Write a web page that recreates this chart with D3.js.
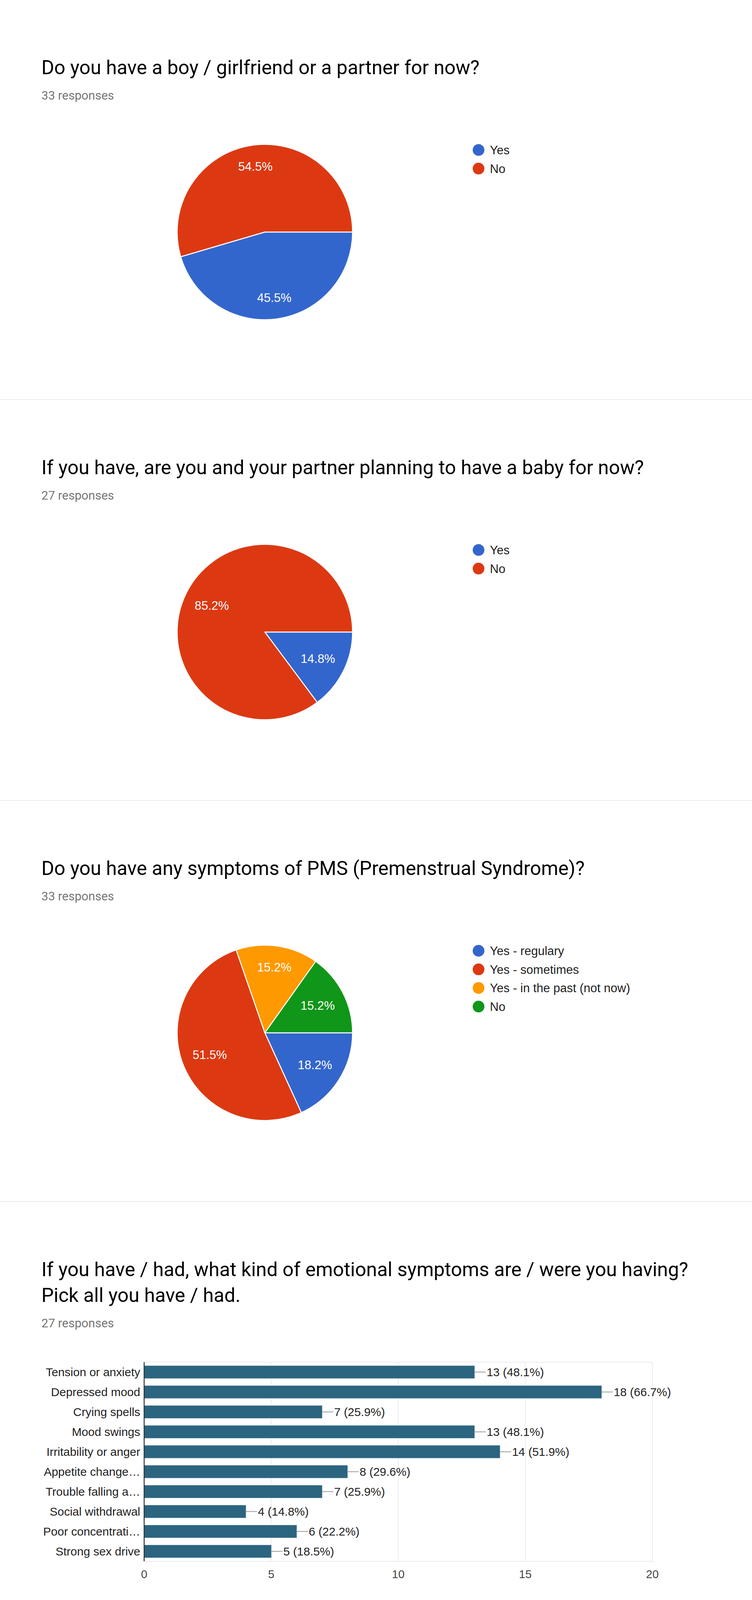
<!DOCTYPE html>
<html>
<head>
<meta charset="utf-8">
<script src="https://cdn.jsdelivr.net/npm/d3@7"></script>
<style>
  html, body { margin: 0; padding: 0; background: #fff; }
  svg { display: block; }
</style>
</head>
<body>
<svg id="chart" width="1925" height="4269"></svg>
<script>
// ---------- DATA ----------
const q1Title = ["Do you have a boy / girlfriend or a partner for now?"];
const q1Responses = "33 responses";
const q1Labels = ["Yes", "No"];
const q1Values = [15, 18];

const q2Title = ["If you have, are you and your partner planning to have a baby for now?"];
const q2Responses = "27 responses";
const q2Labels = ["Yes", "No"];
const q2Values = [4, 23];

const q3Title = ["Do you have any symptoms of PMS (Premenstrual Syndrome)?"];
const q3Responses = "33 responses";
const q3Labels = ["Yes - regulary", "Yes - sometimes", "Yes - in the past (not now)", "No"];
const q3Values = [6, 17, 5, 5];

const q4Title = ["If you have / had, what kind of emotional symptoms are / were you having?", "Pick all you have / had."];
const q4Responses = "27 responses";
const q4Total = 27;
const q4Categories = ["Tension or anxiety", "Depressed mood", "Crying spells", "Mood swings",
  "Irritability or anger", "Appetite change\u2026", "Trouble falling a\u2026", "Social withdrawal",
  "Poor concentrati\u2026", "Strong sex drive"];
const q4Values = [13, 18, 7, 13, 14, 8, 7, 4, 6, 5];
const q4Ticks = [0, 5, 10, 15, 20];

const pieColors = ["#3366cc", "#dc3912", "#ff9900", "#109618"];
const barColor = "#2b6580";

// ---------- LAYOUT ----------
const svg = d3.select("#chart");
const W = 1925;
const sectionTops = [0, 1024, 2050, 3077];
const dividerYs = [1022, 2048, 3075, 4266];
const titleFont = "Roboto, 'Noto Sans', Arial, sans-serif";
const chartFont = "'Liberation Sans', Arial, Helvetica, sans-serif";

dividerYs.forEach(y => {
  svg.append("rect").attr("x", 0).attr("y", y).attr("width", W).attr("height", 2).attr("fill", "#ebebeb");
});

function header(top, lines, responses) {
  const g = svg.append("g");
  lines.forEach((ln, i) => {
    g.append("text").attr("x", 106).attr("y", top + 190 + i * 66)
      .attr("font-family", titleFont).attr("font-size", 50).attr("fill", "#000")
      .text(ln);
  });
  g.append("text").attr("x", 106).attr("y", top + 255 + (lines.length - 1) * 66)
    .attr("font-family", titleFont).attr("font-size", 31).attr("fill", "#757575")
    .text(responses);
}

function pieChart(top, labels, values) {
  const cx = 678, cy = top + 594, R = 224.5;
  const g = svg.append("g").attr("transform", `translate(${cx},${cy})`);
  const total = d3.sum(values);
  const pie = d3.pie().sort(null).startAngle(Math.PI / 2).endAngle(Math.PI / 2 + 2 * Math.PI);
  const arcs = pie(values);
  const arc = d3.arc().innerRadius(0).outerRadius(R);
  g.selectAll("path").data(arcs).join("path")
    .attr("d", arc)
    .attr("fill", (d, i) => pieColors[i])
    .attr("stroke", "#fff").attr("stroke-width", 2.5).attr("stroke-linejoin", "round");

  // labels
  const T = 0.892 * R, b = 20;
  arcs.forEach((d, i) => {
    const pct = d3.format(".1f")(values[i] / total * 100) + "%";
    const t = g.append("text").attr("font-family", chartFont).attr("font-size", 31)
      .attr("fill", "#fff").attr("text-anchor", "middle").attr("dy", "0.35em").text(pct);
    const a = t.node().getComputedTextLength() / 2;
    const m = (d.startAngle + d.endAngle) / 2;
    const ux = Math.sin(m), uy = -Math.cos(m);
    const p = a * Math.abs(ux) + b * Math.abs(uy);
    const c = a * a + b * b - T * T;
    const dist = -p + Math.sqrt(p * p - c);
    t.attr("x", ux * dist).attr("y", uy * dist);
  });

  // legend
  const lg = svg.append("g");
  labels.forEach((lab, i) => {
    const y = top + 384 + i * 47.6;
    lg.append("circle").attr("cx", 1225).attr("cy", y).attr("r", 15).attr("fill", pieColors[i]);
    lg.append("text").attr("x", 1254).attr("y", y + 11)
      .attr("font-family", chartFont).attr("font-size", 31).attr("fill", "#222").text(lab);
  });
}

header(sectionTops[0], q1Title, q1Responses);
pieChart(sectionTops[0], q1Labels, q1Values);
header(sectionTops[1], q2Title, q2Responses);
pieChart(sectionTops[1], q2Labels, q2Values);
header(sectionTops[2], q3Title, q3Responses);
pieChart(sectionTops[2], q3Labels, q3Values);
header(sectionTops[3], q4Title, q4Responses);

// ---------- BAR CHART ----------
(function barChart() {
  const x0 = 369, x1 = 1670, y0 = 3487, y1 = 3997;
  const x = d3.scaleLinear().domain([0, 20]).range([x0, x1]);
  const y = d3.scaleBand().domain(q4Categories).range([y0, y1]).paddingInner(0.37).paddingOuter(0.185);
  const g = svg.append("g");

  // frame + gridlines
  g.append("line").attr("x1", x0).attr("x2", x1 + 1).attr("y1", y0).attr("y2", y0)
    .attr("stroke", "#ebebeb").attr("stroke-width", 2);
  g.append("line").attr("x1", x0).attr("x2", x1 + 1).attr("y1", y1).attr("y2", y1)
    .attr("stroke", "#ebebeb").attr("stroke-width", 2);
  g.selectAll("line.grid").data(q4Ticks.slice(1)).join("line").attr("class", "grid")
    .attr("x1", d => x(d)).attr("x2", d => x(d)).attr("y1", y0).attr("y2", y1)
    .attr("stroke", "#ebebeb").attr("stroke-width", 2);

  // bars
  g.selectAll("rect.bar").data(q4Values).join("rect").attr("class", "bar")
    .attr("x", x(0)).attr("y", (d, i) => y(q4Categories[i]))
    .attr("width", d => x(d) - x(0)).attr("height", y.bandwidth())
    .attr("fill", barColor).attr("stroke", "#5f8c9f").attr("stroke-width", 1);

  // axis line
  g.append("line").attr("x1", x0).attr("x2", x0).attr("y1", y0).attr("y2", y1)
    .attr("stroke", "#333").attr("stroke-width", 2.5);

  // category labels
  g.selectAll("text.cat").data(q4Categories).join("text").attr("class", "cat")
    .attr("x", x0 - 10).attr("y", d => y(d) + y.bandwidth() / 2).attr("dy", "0.36em")
    .attr("text-anchor", "end").attr("font-family", chartFont).attr("font-size", 30)
    .attr("fill", "#222").text(d => d);

  // value connectors and labels
  q4Values.forEach((v, i) => {
    const cy = y(q4Categories[i]) + y.bandwidth() / 2;
    g.append("line").attr("x1", x(v)).attr("x2", x(v) + 29).attr("y1", cy).attr("y2", cy)
      .attr("stroke", "#999").attr("stroke-width", 2);
    g.append("text").attr("x", x(v) + 31).attr("y", cy).attr("dy", "0.36em")
      .attr("font-family", chartFont).attr("font-size", 30).attr("fill", "#222")
      .text(v + " (" + d3.format(".1f")(v / q4Total * 100) + "%)");
  });

  // x tick labels
  g.selectAll("text.tick").data(q4Ticks).join("text").attr("class", "tick")
    .attr("x", d => x(d)).attr("y", 4040).attr("text-anchor", "middle")
    .attr("font-family", chartFont).attr("font-size", 29).attr("fill", "#444")
    .text(d => d);
})();
</script>
</body>
</html>
